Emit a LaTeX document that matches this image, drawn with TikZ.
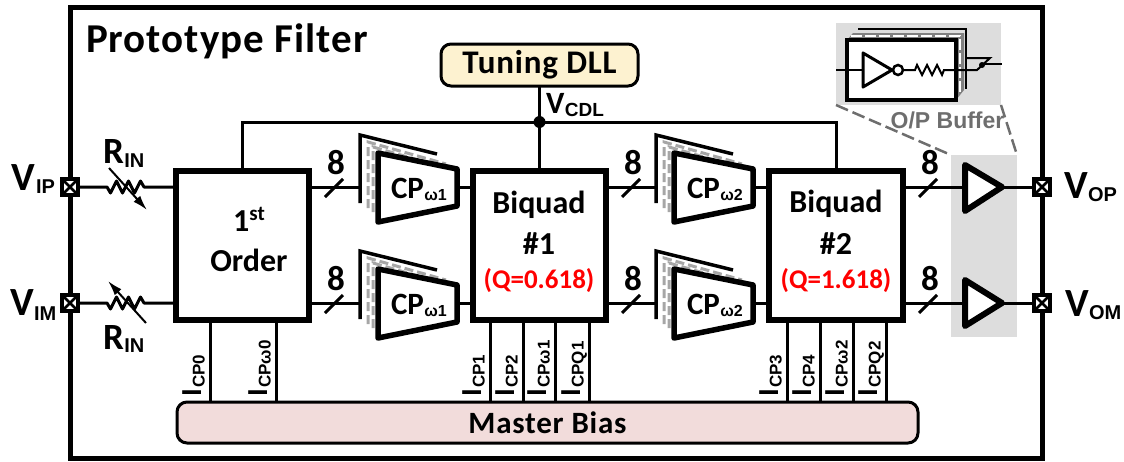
\documentclass[tikz,border=0pt]{standalone}
\usepackage{fontspec}
\setmainfont{Carlito}
\newfontfamily\subf{Liberation Sans}
\newfontfamily\widef[LetterSpace=2.5]{Carlito}
\usetikzlibrary{arrows.meta}
\newcommand{\sz}[1]{\fontsize{#1}{#1}\selectfont}
\newcommand{\Lab}[5]{{\sz{#1}\bfseries #3\raisebox{-#5pt}{\subf\sz{#2}\bfseries\kern0.5pt #4}}}
\definecolor{tunefill}{HTML}{FDF2D0}
\definecolor{biasfill}{HTML}{F2DCDB}
\definecolor{bufgrey}{HTML}{DDDDDD}
\definecolor{dashgrey}{HTML}{A6A6A6}
\definecolor{leadgrey}{HTML}{6E6E6E}
\tikzset{
  blockbox/.style={draw,line width=6pt,fill=white,minimum width=#1,minimum height=149pt,inner sep=0pt,outer sep=0pt,align=center},
  roundbox/.style={draw,line width=3pt,rounded corners=10pt,inner sep=0pt,outer sep=0pt},
  wire/.style={line width=3pt},
  padbox/.style={draw,line width=3.5pt,fill=white,minimum size=16pt,inner sep=0pt,outer sep=0pt},
  txt/.style={inner sep=0pt,outer sep=0pt},
  eight/.style={txt,font=\sz{35}\bfseries},
  red label/.style={txt,text=red,font=\sz{27}\bfseries},
  currentlab/.style={txt,rotate=90,anchor=base west},
  cptrap/.style={line width=5.5pt,fill=white,line join=round},
  amptri/.style={line width=6pt,fill=white,line join=round},
  leaddash/.style={leadgrey,line width=2.5pt,dash pattern=on 13pt off 5pt},
  layerdash/.style={dashgrey,line width=3pt,dash pattern=on 9pt off 4pt},
  slash/.style={line width=3pt},
}
\newcommand{\Zig}{-- ++(3,0) -- ++(3.5,6) -- ++(6,-12) -- ++(6,12) -- ++(6,-12) -- ++(6,12) -- ++(6,-12) -- ++(3.5,6) -- ++(1,0)}
\begin{document}
\begin{tikzpicture}[x=1pt,y=-1pt]
\useasboundingbox (0,0) rectangle (1124,461);
% frame
\node[draw,line width=5pt,minimum width=972pt,minimum height=451pt,inner sep=0pt,outer sep=0pt] (frame) at (556,232.5) {};
\node[txt,anchor=base west,font=\widef\sz{41}\bfseries] (title) at (86,52) {Prototype Filter};

% O/P buffer shading
\node[fill=bufgrey,minimum width=66pt,minimum height=182pt,inner sep=0pt,outer sep=0pt] (bufshade) at (984,246) {};
\node[fill=bufgrey,minimum width=165pt,minimum height=82pt,inner sep=0pt,outer sep=0pt] (inset) at (918.5,64) {};
\draw[leaddash] (inset.south west) -- (bufshade.north west);
\draw[leaddash] (inset.south east) -- (bufshade.north east);
\node[txt,text=leadgrey,font=\subf\sz{23}\bfseries] (buflabel) at (947.5,120) {O/P Buffer};

% inset content
\fill[gray] (853,33) -- (964,33) -- (964,90) -- (956,100) -- (956,40) -- (847,40) -- cycle;
\draw[line width=2.5pt] (858,29) -- (966,29) -- (966,89);
\draw[white,line width=2pt,dash pattern=on 11pt off 3pt] (851,36) -- (960,36) -- (960,92);
\node[draw,line width=3.5pt,fill=white,minimum width=109pt,minimum height=60pt,inner sep=0pt,outer sep=0pt] (bufcell) at (901.5,70) {};
\coordinate (inL) at (836,70);
\coordinate (invT) at (863,70);
\node[circle,draw,line width=2.5pt,minimum size=10pt,inner sep=0pt,outer sep=0pt] (bubble) at (898,70) {};
\draw[line width=2pt] (inL) -- (invT);
\draw[line width=3pt,line join=round] (863,53) -- (892,70) -- (863,87) -- cycle;
\draw[line width=2pt] (bubble.east) -- (915,70) -- ++(2,-5) -- ++(5,10) -- ++(5,-10) -- ++(5,10) -- ++(5,-10) -- ++(5,10) -- ++(2,-5) -- (977,70) -- (990,58) -- (966,58);
\coordinate (swOut) at (1002,64);
\fill (982,65) circle (3pt);
\draw[line width=2pt] (982,64) -- (swOut);

% Tuning DLL and V_CDL net
\node[roundbox,fill=tunefill,minimum width=197pt,minimum height=42pt,font=\widef\sz{33}\bfseries] (dll) at (539.5,65) {Tuning DLL};
\node[blockbox=133pt] (first) at (242.5,245.5) {};
\node[blockbox=133pt] (biq1) at (539.5,245.5) {};
\node[blockbox=134pt] (biq2) at (836,245.5) {};
\coordinate (cdl) at (539.5,122);
\draw[wire] (dll.south) -- (biq1.north);
\draw[wire] (first.north) -- (first.north |- cdl) -- (biq2.north |- cdl) -- (biq2.north);
\fill (cdl) circle (6pt);
\node[txt,anchor=base west] (vcdl) at (546,113) {\Lab{31}{19}{V}{CDL}{3}};

% block text
\node[txt,font=\sz{32}\bfseries] (t1st) at (249,219) {1\raisebox{11pt}{\sz{21}st}};
\node[txt,font=\sz{32}\bfseries] (torder) at (249,260) {Order};
\node[txt,font=\sz{32}\bfseries] (tb1) at (539,205) {Biquad};
\node[txt,font=\sz{32}\bfseries] (tn1) at (539,244) {\#1};
\node[red label] (q1) at (539,281) {(Q=0.618)};
\node[txt,font=\sz{32}\bfseries] (tb2) at (836,204) {Biquad};
\node[txt,font=\sz{32}\bfseries] (tn2) at (836,244) {\#2};
\node[red label] (q2) at (836,281) {(Q=1.618)};

% pads
\foreach \n/\x/\y in {padIP/70/187,padIM/70/303,padOP/1042/187,padOM/1042/303}{
  \node[padbox] (\n) at (\x,\y) {};
  \draw[line width=2.6pt] (\n.north west) -- (\n.south east) (\n.north east) -- (\n.south west);
}
\node[txt,anchor=base west] (vip) at (12,190) {\Lab{40}{20}{V}{IP}{3}};
\node[txt,anchor=base west] (vim) at (10,315) {\Lab{40}{20}{V}{IM}{5}};
\node[txt,anchor=base west] (vop) at (1064,198) {\Lab{40}{20}{V}{OP}{3}};
\node[txt,anchor=base west] (vom) at (1065,316) {\Lab{40}{20}{V}{OM}{3}};

% input resistors
\coordinate (rA) at (104,187);
\coordinate (rB) at (104,303);
\draw[wire,line join=round] (padIP.east) -- (rA) \Zig -- (first.west |- padIP);
\draw[wire,line join=round] (padIM.east) -- (rB) \Zig -- (first.west |- padIM);
\coordinate (aA1) at (109,168); \coordinate (aA2) at (147,210);
\coordinate (aB1) at (146,323); \coordinate (aB2) at (108,281);
\draw[line width=2pt,-{Latex[length=15pt,width=9pt]}] (aA1) -- (aA2);
\draw[line width=2pt,-{Latex[length=15pt,width=9pt]}] (aB1) -- (aB2);
\node[txt,anchor=base west] (r1) at (103,163) {\Lab{37}{20}{R}{IN}{4}};
\node[txt,anchor=base west] (r2) at (103,349) {\Lab{37}{20}{R}{IN}{3}};

% CP cells
\foreach \n/\dx/\dy/\lbl in {cpa/0/0/ω1,cpb/0/116/ω1,cpc/296/0/ω2,cpd/296/116/ω2}{
  \begin{scope}[shift={(\dx,\dy)}]
    \draw[line width=3.5pt] (360,203) -- (360,135) -- (437,154);
    \draw[layerdash] (368,208) -- (368,142) -- (446,164);
    \draw[layerdash] (373,212) -- (373,147) -- (446,168);
    \draw[cptrap] (378,153) -- (457,169) -- (457,206) -- (378,222) -- cycle;
    \coordinate (\n L) at (360,187);
    \coordinate (\n R) at (457,187);
    \node[txt,anchor=base west] (\n T) at (391,198) {\Lab{31}{16}{CP}{\lbl}{2}};
  \end{scope}
}
% wires between blocks
\foreach \a/\b/\c/\d in {first/cpa/biq1/padIP,first/cpb/biq1/padIM,biq1/cpc/biq2/padIP,biq1/cpd/biq2/padIM}{
  \draw[wire] (\a.east |- \d) -- (\b L);
  \draw[wire] (\b R) -- (\c.west |- \d);
}
% output amps
\node[minimum size=1pt,inner sep=0pt] (ampA) at (965,187) {};
\node[minimum size=1pt,inner sep=0pt] (ampB) at (965,303) {};
\coordinate (tipA) at (1002,187);
\coordinate (tipB) at (1002,303);
\draw[wire] (biq2.east |- padIP) -- (ampA.center);
\draw[wire] (biq2.east |- padIM) -- (ampB.center);
\draw[amptri] (965,165) -- (tipA) -- (965,211) -- cycle;
\draw[amptri] (965,280) -- (tipB) -- (965,326) -- cycle;
\draw[wire] (tipA) -- (padOP.west);
\draw[wire] (tipB) -- (padOM.west);

% bus slashes and widths
\foreach \n/\x/\y in {sa/334/187,sb/334/303,sc/631/187,sd/631/303,se/928/187,sf/928/303}{
  \draw[slash] (\x-9,\y+10) -- (\x+9,\y-8);
  \node[eight] (\n) at (\x+2,\y-24) {8};
}

% Master bias
\node[roundbox,fill=biasfill,minimum width=741pt,minimum height=41pt,font=\widef\sz{31}\bfseries] (bias) at (547.5,422.5) {Master Bias};
\foreach \n/\x/\y in {i0/210/CP0,i1/276/CPω0,i2/490/CP1,i3/523/CP2,i4/555/CPω1,i5/589/CPQ1,i6/787/CP3,i7/820/CP4,i8/853/CPω2,i9/886/CPQ2}{
  \coordinate (\n) at (\x,320);
  \draw[wire] (\n) -- (\n |- bias.north);
  \node[currentlab] (\n t) at (\x-9,396) {\Lab{29}{17}{I}{\y}{3.5}};
}
\end{tikzpicture}
\end{document}
